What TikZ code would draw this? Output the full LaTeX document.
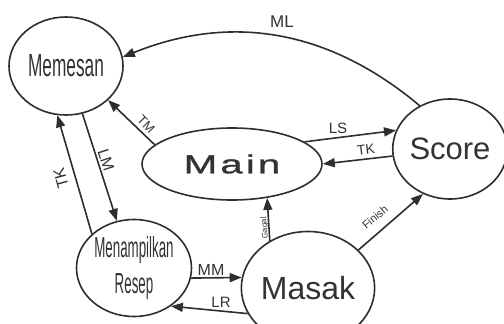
\documentclass[tikz,border=0pt]{standalone}
\usepackage{fontspec}
\setmainfont{Liberation Sans}
\newfontfamily\narrowfont[FakeStretch=0.54]{Liberation Sans}
\newfontfamily\narrowerfont[FakeStretch=0.46]{Liberation Sans}
\newfontfamily\widefont[FakeStretch=1.55,LetterSpace=12,FakeBold=1.2]{Liberation Sans}
\usetikzlibrary{shapes.geometric,arrows.meta}
\definecolor{lc}{HTML}{2E2E2E}
\definecolor{tc}{HTML}{333333}
\begin{document}
\begin{tikzpicture}[x=1pt,y=-1pt,
  st/.style={ellipse,draw=lc,line width=1.6pt,inner sep=0pt,text=tc},
  ar/.style={-{Triangle[length=12pt,width=9pt]},draw=lc,line width=1.6pt},
  lb/.style={text=tc,inner sep=0pt,font=\fontsize{15}{15}\selectfont}]
\useasboundingbox (0,0) rectangle (504,324);
\fill[white] (0,0) rectangle (504,324);

\node[st,minimum width=114pt,minimum height=98pt,font=\narrowfont\fontsize{32}{32}\selectfont] (mem) at (66,66) {Memesan};
\node[st,minimum width=180pt,minimum height=72pt,font=\widefont\fontsize{26}{26}\selectfont] (main) at (232,164) {Main};
\node[st,minimum width=103pt,minimum height=100pt,font=\fontsize{31}{31}\selectfont] (score) at (450,149) {Score};
\node[st,minimum width=113pt,minimum height=113pt,font=\fontsize{32}{32}\selectfont] (masak) at (308,288) {Masak};
\node[st,minimum width=115pt,minimum height=97pt,align=center,font=\narrowerfont\fontsize{29}{36}\selectfont] (resep) at (134,268) {Menampilkan\\Resep};

\draw[ar] (score.125) to[out=140,in=22] (mem.9);
\draw[ar] (main.166) -- (mem.-39);
\draw[ar] (mem.-71) -- (resep.110);
\draw[ar] (resep.141) -- (mem.-100);
\draw[ar] (main.17) -- (score.161);
\draw[ar] (score.187) -- (main.0);
\draw[ar] (masak.129) -- (main.-44);
\draw[ar] (masak.37) -- (score.-121);
\draw[ar] (resep.-10) -- (masak.171);
\draw[ar] (masak.203) -- (resep.-46);

\node[lb,font=\fontsize{17}{17}\selectfont] (lml) at (282,22) {ML};
\node[lb,rotate=-46,font=\fontsize{13}{13}\selectfont] (ltm) at (146,124) {TM};
\node[lb,rotate=-72,font=\fontsize{16}{16}\selectfont] (llm) at (106,160) {LM};
\node[lb,rotate=105,font=\fontsize{16}{16}\selectfont] (ltk1) at (61,178) {TK};
\node[lb] (lls) at (338,128) {LS};
\node[lb,rotate=7,font=\fontsize{14}{14}\selectfont] (ltk2) at (366,150) {TK};
\node[lb,rotate=95,font=\fontsize{8}{8}\selectfont] (lgg) at (265,228) {Gagal};
\node[lb,rotate=40,font=\fontsize{11}{11}\selectfont] (lfn) at (375,217) {Finish};
\node[lb,font=\fontsize{16}{16}\selectfont] (lmm) at (211,270) {MM};
\node[lb] (llr) at (221,302) {LR};
\end{tikzpicture}
\end{document}
